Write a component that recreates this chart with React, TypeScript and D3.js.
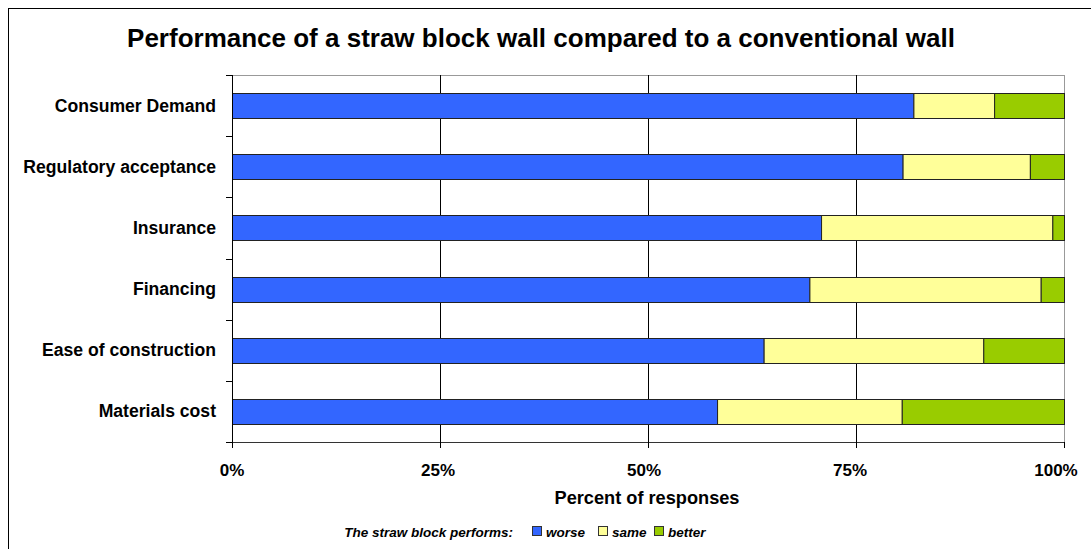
import React from "react";
import * as d3 from "d3";

// Survey results: share of responses per factor (percent)
const categories = [
  "Consumer Demand",
  "Regulatory acceptance",
  "Insurance",
  "Financing",
  "Ease of construction",
  "Materials cost",
];
const worse = [81.9, 80.6, 70.8, 69.4, 63.9, 58.3];
const same = [9.7, 15.3, 27.8, 27.8, 26.4, 22.2];
const better = [8.4, 4.1, 1.4, 2.8, 9.7, 19.5];

const seriesKeys = ["worse", "same", "better"];
const seriesColors = ["#3366FF", "#FFFF99", "#99CC00"];
const xTicks = [0, 25, 50, 75, 100];

const W = 1091;
const H = 549;
const plot = { left: 232, right: 1064, top: 75, bottom: 442 };
const FONT = "'Liberation Sans', Arial, Helvetica, sans-serif";

export default function App() {
  const rows = categories.map((c, i) => ({
    category: c,
    worse: worse[i],
    same: same[i],
    better: better[i],
  }));

  const x = d3.scaleLinear().domain([0, 100]).range([plot.left, plot.right]);
  const y = d3
    .scaleBand<string>()
    .domain(categories)
    .range([plot.top, plot.bottom])
    .paddingInner(0.59)
    .paddingOuter(0.295);
  const stack = d3.stack<any>().keys(seriesKeys)(rows);
  const step = (plot.bottom - plot.top) / categories.length;
  const boundaries = d3.range(categories.length + 1).map((i) => plot.top + i * step);

  return (
    <svg
      width={W}
      height={H}
      style={{ position: "absolute", left: 0, top: 0, background: "#fff" }}
      fontFamily={FONT}
    >
      {/* chart frame, runs past the right and bottom edges */}
      <rect x={8.5} y={8.5} width={W + 20} height={H + 20} fill="#fff" stroke="#000" strokeWidth={1} />

      <text x={541} y={47} textAnchor="middle" fontSize={26} fontWeight="bold" fill="#000">
        Performance of a straw block wall compared to a conventional wall
      </text>

      {/* plot border */}
      <line x1={plot.left} x2={plot.right + 0.5} y1={plot.top + 0.5} y2={plot.top + 0.5} stroke="#999" />
      <line x1={plot.right + 0.5} x2={plot.right + 0.5} y1={plot.top} y2={plot.bottom} stroke="#999" />

      {/* vertical gridlines */}
      {xTicks.slice(1, -1).map((t) => (
        <line
          key={"g" + t}
          x1={Math.round(x(t)) + 0.5}
          x2={Math.round(x(t)) + 0.5}
          y1={plot.top}
          y2={plot.bottom}
          stroke="#000"
        />
      ))}

      {/* bars */}
      {stack.map((layer, si) =>
        layer.map((d, i) => (
          <rect
            key={seriesKeys[si] + i}
            x={x(d[0]) + 0.5}
            y={Math.round(y(categories[i])!) + 0.5}
            width={x(d[1]) - x(d[0])}
            height={Math.round(y.bandwidth())}
            fill={seriesColors[si]}
            stroke="#222"
            strokeWidth={1}
          />
        ))
      )}

      {/* y axis */}
      <line x1={plot.left + 0.5} x2={plot.left + 0.5} y1={plot.top} y2={plot.bottom + 6} stroke="#000" />
      {boundaries.map((b, i) => (
        <line
          key={"yt" + i}
          x1={plot.left - 6}
          x2={plot.left}
          y1={Math.round(b) + 0.5}
          y2={Math.round(b) + 0.5}
          stroke="#000"
        />
      ))}
      {categories.map((c) => (
        <text
          key={c}
          x={216}
          y={y(c)! + y.bandwidth() / 2 + 6}
          textAnchor="end"
          fontSize={17.6}
          fontWeight="bold"
          fill="#000"
        >
          {c}
        </text>
      ))}

      {/* x axis */}
      <line x1={plot.left} x2={plot.right + 1} y1={plot.bottom + 0.5} y2={plot.bottom + 0.5} stroke="#333" />
      {xTicks.map((t) => (
        <g key={"xt" + t}>
          <line
            x1={Math.round(x(t)) + 0.5}
            x2={Math.round(x(t)) + 0.5}
            y1={plot.bottom}
            y2={plot.bottom + 6}
            stroke="#000"
          />
          <text
            x={x(t) - t * 0.08}
            y={476}
            textAnchor="middle"
            fontSize={17}
            fontWeight="bold"
            fill="#000"
          >
            {t + "%"}
          </text>
        </g>
      ))}
      <text x={647} y={504} textAnchor="middle" fontSize={18.2} fontWeight="bold" fill="#000">
        Percent of responses
      </text>

      {/* legend */}
      <g fontSize={13.5} fontWeight="bold" fontStyle="italic" fill="#000">
        <text x={513} y={537} textAnchor="end">
          The straw block performs:
        </text>
        {seriesKeys.map((k, i) => {
          const lx = [532, 598, 654][i];
          return (
            <g key={k}>
              <rect x={lx + 0.5} y={526.5} width={9} height={9} fill={seriesColors[i]} stroke="#333" />
              <text x={lx + 14} y={537}>
                {k}
              </text>
            </g>
          );
        })}
      </g>
    </svg>
  );
}
